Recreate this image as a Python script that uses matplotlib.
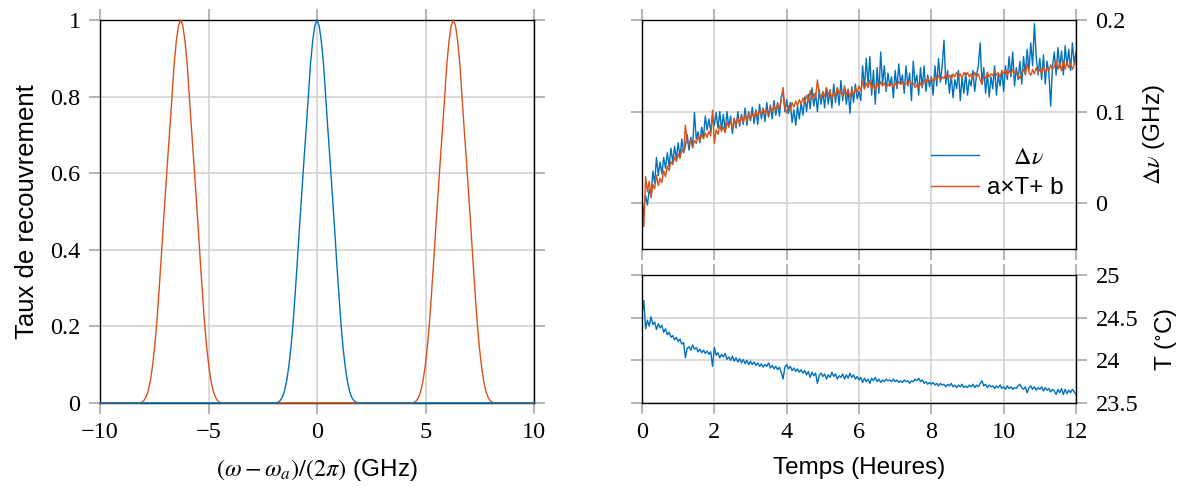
import numpy as np
import matplotlib
matplotlib.use("Agg")
import matplotlib.pyplot as plt
from matplotlib.ticker import FuncFormatter, FixedLocator

# ---------------- data ----------------
# Left panel: overlap rate profile (same shape for each peak), read at offsets from peak centre (GHz)
peak_offsets = [0.0, 0.1, 0.2, 0.3, 0.4, 0.5, 0.6, 0.7, 0.8, 0.9, 1.0,
                1.1, 1.2, 1.3, 1.4, 1.5, 1.6, 1.7, 1.8, 1.9]
peak_profile = [1.0, 0.985, 0.945, 0.885, 0.80, 0.715, 0.635, 0.55, 0.465, 0.375, 0.29,
                0.21, 0.145, 0.095, 0.057, 0.031, 0.015, 0.006, 0.002, 0.0]
blue_centres = [0.0]
orange_centres = [-6.283, 6.283]
freq_range = [-10.0, 10.0]

# Right panels: time (hours), step 0.05 h
time_start, time_end, n_time = 0.0, 12.0, 241

temperature = [
    24.55, 24.70, 24.37, 24.47, 24.40, 24.51, 24.42, 24.45, 24.36, 24.43,
    24.38, 24.41, 24.33, 24.37, 24.30, 24.33, 24.27, 24.29, 24.24, 24.27,
    24.22, 24.25, 24.19, 24.21, 24.03, 24.14, 24.16, 24.12, 24.18, 24.13,
    24.15, 24.10, 24.13, 24.09, 24.12, 24.08, 24.11, 24.07, 24.10, 23.93,
    24.15, 24.06, 24.09, 24.03, 24.07, 24.04, 24.08, 24.01, 24.04, 24.00,
    24.05, 23.99, 24.03, 23.98, 24.02, 23.97, 24.01, 23.96, 24.00, 23.95,
    23.99, 23.95, 23.98, 23.94, 23.97, 23.93, 23.96, 23.92, 23.95, 23.93,
    23.97, 23.91, 23.94, 23.90, 23.93, 23.89, 23.92, 23.86, 23.78, 23.92,
    23.95, 23.90, 23.93, 23.88, 23.91, 23.87, 23.90, 23.86, 23.89, 23.85,
    23.88, 23.83, 23.87, 23.80, 23.86, 23.82, 23.85, 23.73, 23.82, 23.85,
    23.81, 23.84, 23.78, 23.83, 23.80, 23.86, 23.81, 23.84, 23.78, 23.82,
    23.80, 23.84, 23.78, 23.83, 23.79, 23.85, 23.80, 23.83, 23.78, 23.81,
    23.77, 23.80, 23.74, 23.79, 23.75, 23.78, 23.73, 23.79, 23.76, 23.80,
    23.75, 23.78, 23.74, 23.77, 23.75, 23.78, 23.76, 23.77, 23.75, 23.78,
    23.75, 23.77, 23.74, 23.76, 23.74, 23.77, 23.75, 23.76, 23.73, 23.76,
    23.75, 23.78, 23.76, 23.79, 23.75, 23.77, 23.73, 23.75, 23.72, 23.74,
    23.72, 23.74, 23.71, 23.73, 23.70, 23.73, 23.71, 23.72, 23.69, 23.72,
    23.70, 23.73, 23.69, 23.71, 23.68, 23.71, 23.69, 23.72, 23.68, 23.70,
    23.68, 23.71, 23.69, 23.72, 23.68, 23.71, 23.69, 23.73, 23.76, 23.70,
    23.72, 23.68, 23.71, 23.69, 23.70, 23.67, 23.70, 23.68, 23.71, 23.67,
    23.69, 23.66, 23.70, 23.67, 23.69, 23.66, 23.68, 23.67, 23.70, 23.72,
    23.68, 23.66, 23.69, 23.62, 23.68, 23.70, 23.66, 23.69, 23.65, 23.68,
    23.66, 23.69, 23.64, 23.68, 23.65, 23.67, 23.63, 23.66, 23.64, 23.60,
    23.66, 23.62, 23.67, 23.60, 23.66, 23.61, 23.65, 23.62, 23.66, 23.63,
    23.60,
]

delta_nu = [
    -0.022, -0.005, 0.008, -0.002, 0.015, 0.008, 0.035, 0.022, 0.050, 0.030,
    0.045, 0.032, 0.050, 0.038, 0.055, 0.040, 0.060, 0.045, 0.062, 0.048,
    0.066, 0.050, 0.070, 0.055, 0.062, 0.075, 0.058, 0.072, 0.062, 0.099,
    0.070, 0.078, 0.066, 0.083, 0.072, 0.095, 0.080, 0.092, 0.078, 0.096,
    0.085, 0.099, 0.082, 0.100, 0.080, 0.097, 0.078, 0.100, 0.083, 0.095,
    0.076, 0.093, 0.082, 0.100, 0.084, 0.097, 0.086, 0.104, 0.085, 0.100,
    0.090, 0.105, 0.087, 0.102, 0.086, 0.108, 0.092, 0.104, 0.089, 0.110,
    0.094, 0.107, 0.092, 0.112, 0.096, 0.110, 0.095, 0.116, 0.122, 0.100,
    0.113, 0.098, 0.110, 0.088, 0.102, 0.085, 0.106, 0.092, 0.110, 0.096,
    0.116, 0.100, 0.119, 0.103, 0.126, 0.106, 0.120, 0.100, 0.124, 0.108,
    0.122, 0.104, 0.126, 0.108, 0.124, 0.104, 0.130, 0.110, 0.126, 0.107,
    0.134, 0.112, 0.128, 0.108, 0.124, 0.098, 0.127, 0.110, 0.130, 0.114,
    0.122, 0.112, 0.150, 0.125, 0.158, 0.130, 0.160, 0.118, 0.145, 0.108,
    0.148, 0.120, 0.165, 0.130, 0.150, 0.122, 0.142, 0.128, 0.138, 0.115,
    0.145, 0.125, 0.152, 0.130, 0.140, 0.120, 0.150, 0.128, 0.142, 0.112,
    0.155, 0.130, 0.140, 0.118, 0.148, 0.126, 0.150, 0.122, 0.140, 0.127,
    0.138, 0.118, 0.150, 0.128, 0.158, 0.132, 0.150, 0.178, 0.130, 0.145,
    0.120, 0.140, 0.115, 0.135, 0.125, 0.145, 0.112, 0.138, 0.120, 0.142,
    0.118, 0.135, 0.128, 0.145, 0.122, 0.140, 0.150, 0.175, 0.130, 0.148,
    0.120, 0.142, 0.116, 0.138, 0.125, 0.150, 0.118, 0.140, 0.128, 0.145,
    0.122, 0.150, 0.135, 0.160, 0.138, 0.165, 0.128, 0.148, 0.135, 0.155,
    0.130, 0.160, 0.140, 0.168, 0.145, 0.175, 0.150, 0.196, 0.160, 0.140,
    0.158, 0.135, 0.162, 0.130, 0.155, 0.142, 0.106, 0.150, 0.165, 0.140,
    0.170, 0.148, 0.166, 0.140, 0.172, 0.150, 0.168, 0.145, 0.175, 0.152,
    0.165,
]

# linear fit of delta_nu against temperature (a x T + b), coefficients
fit_a = -0.165
fit_b = 4.05

left_xticks = [-10, -5, 0, 5, 10]
left_yticks = [0, 0.2, 0.4, 0.6, 0.8, 1]
time_ticks = [0, 2, 4, 6, 8, 10, 12]
dnu_ticks = [0, 0.1, 0.2]
temp_ticks = [23.5, 24, 24.5, 25]

# ---------------- style ----------------
BLUE = "#0072BD"
ORANGE = "#D95319"
GRID = "#cfcfcf"
TICKC = "#a8a8a8"
W, H = 1195, 487
plt.rcParams["font.family"] = ["Liberation Sans", "DejaVu Sans"]
plt.rcParams["mathtext.fontset"] = "stix"
FS = 17.5
LFS = 18.5
SERIF = "Liberation Serif"

fig = plt.figure(figsize=(W / 100, H / 100), dpi=100)


def ax_rect(x0, y0, x1, y1):
    return [x0 / W, 1 - y1 / H, (x1 - x0) / W, (y1 - y0) / H]


def fmt(v, pos=None):
    s = f"{v:g}"
    return s.replace("-", "\u2212")


def style(ax):
    for sp in ax.spines.values():
        sp.set_color("black")
        sp.set_linewidth(1.0)
        sp.set_zorder(2.5)
    ax.grid(True, color=GRID, linewidth=1.1, zorder=0)
    ax.set_axisbelow(True)
    ax.tick_params(which="both", direction="out", length=8, width=1.2, color=TICKC,
                   top=True, bottom=True, left=True, right=True, pad=6,
                   labelsize=FS, labelcolor="black")
    for lab in ax.get_xticklabels() + ax.get_yticklabels():
        lab.set_fontfamily(SERIF)


# ---- left panel ----
axL = fig.add_axes(ax_rect(100, 20, 534, 403))

def build_curve(centres):
    xs = [freq_range[0]]
    ys = [0.0]
    for c in centres:
        for off, val in zip(peak_offsets[::-1], peak_profile[::-1]):
            xs.append(c - off)
            ys.append(val)
        for off, val in zip(peak_offsets[1:], peak_profile[1:]):
            xs.append(c + off)
            ys.append(val)
    xs.append(freq_range[1])
    ys.append(0.0)
    return xs, ys

ox, oy = build_curve(orange_centres)
bx, by = build_curve(blue_centres)
axL.plot(ox, oy, color=ORANGE, lw=1.0, zorder=3, clip_on=False)
axL.plot(bx, by, color=BLUE, lw=1.0, zorder=3, clip_on=False)
axL.set_xlim(-10, 10)
axL.set_ylim(0, 1)
axL.xaxis.set_major_locator(FixedLocator(left_xticks))
axL.yaxis.set_major_locator(FixedLocator(left_yticks))
axL.xaxis.set_major_formatter(FuncFormatter(fmt))
axL.yaxis.set_major_formatter(FuncFormatter(fmt))
style(axL)
axL.set_ylabel("Taux de recouvrement", fontsize=LFS, labelpad=8)
axL.set_xlabel(r"$(\omega - \omega_a)/(2\pi)$ (GHz)", fontsize=FS, labelpad=10)

# ---- right panels ----
t = np.linspace(time_start, time_end, n_time)
T = np.array(temperature)
dnu = np.array(delta_nu)
fit = fit_a * T + fit_b

axT = fig.add_axes(ax_rect(642, 20, 1076, 249))
axT.plot(t, dnu, color=BLUE, lw=1.0, label=r"$\Delta\nu$")
axT.plot(t, fit, color=ORANGE, lw=1.0, label="a\u00d7T+ b")
axT.set_xlim(0, 12)
axT.set_ylim(-0.05, 0.2)
axT.xaxis.set_major_locator(FixedLocator(time_ticks))
axT.yaxis.set_major_locator(FixedLocator(dnu_ticks))
axT.yaxis.set_major_formatter(FuncFormatter(fmt))
style(axT)
axT.tick_params(labelbottom=False, labelleft=False, labelright=True)
axT.yaxis.set_label_position("right")
axT.set_ylabel(r"$\Delta\nu$ (GHz)", fontsize=FS, labelpad=11)
for lab in axT.get_yticklabels():
    lab.set_fontfamily(SERIF)

handles, labels = axT.get_legend_handles_labels()
labels = ["    " + labels[0], labels[1]]
leg = axT.legend(handles, labels, loc="center left",
                 bbox_to_anchor=(921 / W, 1 - 173 / H), bbox_transform=fig.transFigure,
                 frameon=False, fontsize=FS, handlelength=2.0, handletextpad=0.3,
                 labelspacing=0.35, borderaxespad=0)

axB = fig.add_axes(ax_rect(642, 275, 1076, 403))
axB.plot(t, T, color=BLUE, lw=1.0)
axB.set_xlim(0, 12)
axB.set_ylim(23.5, 25)
axB.xaxis.set_major_locator(FixedLocator(time_ticks))
axB.yaxis.set_major_locator(FixedLocator(temp_ticks))
axB.xaxis.set_major_formatter(FuncFormatter(fmt))
axB.yaxis.set_major_formatter(FuncFormatter(fmt))
style(axB)
axB.tick_params(labelleft=False, labelright=True)
axB.yaxis.set_label_position("right")
axB.set_ylabel(r"T ($^{\circ}$C)", fontsize=FS, labelpad=11)
axB.set_xlabel("Temps (Heures)", fontsize=FS, labelpad=10)
for lab in axB.get_xticklabels() + axB.get_yticklabels():
    lab.set_fontfamily(SERIF)

fig.savefig("out.png", dpi=100)
